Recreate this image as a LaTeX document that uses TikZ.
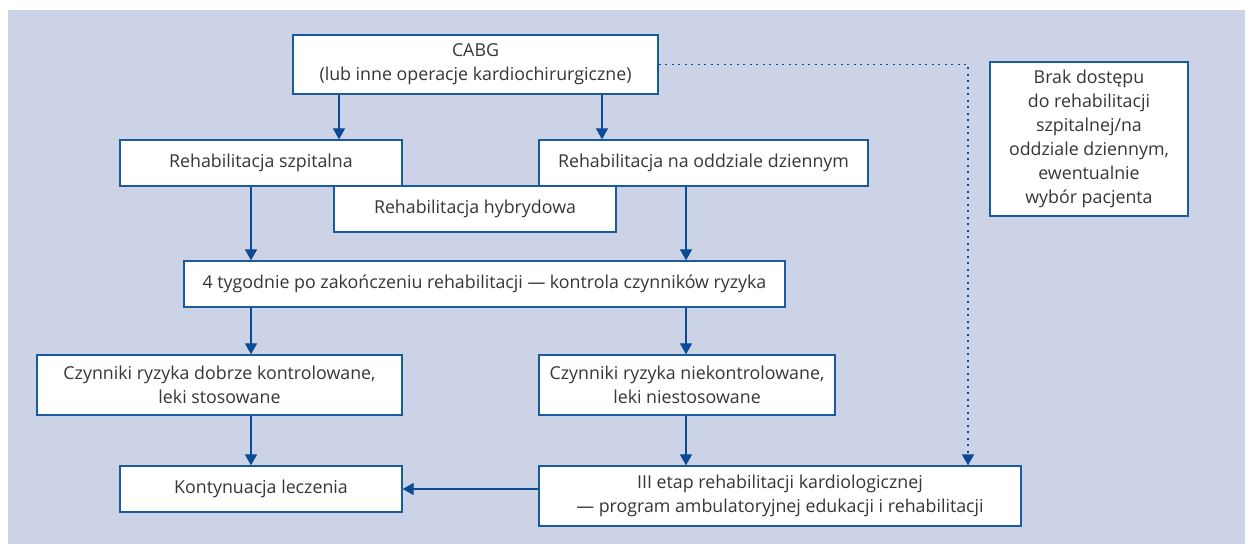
\documentclass[tikz,border=0pt]{standalone}
\usepackage{fontspec}
\setmainfont{Open Sans}
\usetikzlibrary{arrows.meta}
\definecolor{tlo}{HTML}{CDD3E7}
\definecolor{ramka}{HTML}{1C5A9E}
\definecolor{strz}{HTML}{0B4A94}
\definecolor{tekst}{HTML}{363636}
\tikzset{
    box/.style={draw=ramka,line width=1.3pt,fill=white,inner sep=0pt,align=center,
        text=tekst,font=\fontsize{17.8}{24}\selectfont},
    arr/.style={draw=strz,line width=1.2pt,-{Triangle[width=12pt,length=11pt]}},
    dotarr/.style={arr,dash pattern=on 2pt off 4.5pt,line width=1.3pt}
}
\begin{document}
\begin{tikzpicture}[x=1pt,y=-1pt]
        
        \fill[white] (0,0) rectangle (1245,544);
        \fill[tlo] (8,10) rectangle (1245,544);
        \node[box,minimum width=365pt,minimum height=59pt] (cabg) at (475.5,64.5){CABG\\(lub inne operacje kardiochirurgiczne)};
        \node[box,minimum width=282pt,minimum height=46pt] (szp) at (261,163){Rehabilitacja szpitalna};
        \node[box,minimum width=329pt,minimum height=46pt] (dzien) at (703.5,163){Rehabilitacja na oddziale dziennym};
        \node[box,minimum width=282pt,minimum height=46pt] (hybr) at (475,209){Rehabilitacja hybrydowa};
        \node[box,minimum width=601pt,minimum height=46pt] (tyg) at (484.5,284){4 tygodnie po zakończeniu rehabilitacji — kontrola czynników ryzyka};
        \node[box,minimum width=365pt,minimum height=60pt] (dobrze) at (219.5,385){Czynniki ryzyka dobrze kontrolowane,\\leki stosowane};
        \node[box,minimum width=296pt,minimum height=60pt] (nie) at (687,385){Czynniki ryzyka niekontrolowane,\\leki niestosowane};
        \node[box,minimum width=282pt,minimum height=46pt] (kont) at (261,489){Kontynuacja leczenia};
        \node[box,minimum width=482pt,minimum height=60pt] (etap) at (780,496){III etap rehabilitacji kardiologicznej\\— program ambulatoryjnej edukacji i rehabilitacji};
        \node[box,minimum width=198pt,minimum height=154pt] (brak) at (1089,139){Brak dostępu\\do rehabilitacji\\szpitalnej/na\\oddziale dziennym,\\ewentualnie\\wybór pacjenta};
        \coordinate (colL) at (251,0);
        \coordinate (colR) at (686,0);
        \draw[arr] ([xshift=-136.5pt]cabg.south) -- ([xshift=-136.5pt]cabg.south |- szp.north);
        \draw[arr] ([xshift=126.5pt]cabg.south) -- ([xshift=126.5pt]cabg.south |- dzien.north);
        \draw[arr] (szp.south -| colL) -- (tyg.north -| colL);
        \draw[arr] (dzien.south -| colR) -- (tyg.north -| colR);
        \draw[arr] (tyg.south -| colL) -- (dobrze.north -| colL);
        \draw[arr] (tyg.south -| colR) -- (nie.north -| colR);
        \draw[arr] (dobrze.south -| colL) -- (kont.north -| colL);
        \draw[arr] (nie.south -| colR) -- (etap.north -| colR);
        \draw[arr] (etap.west |- kont) -- (kont.east);
        \draw[dotarr] (cabg.east) -| ([xshift=188pt]etap.north);
    \end{tikzpicture}
\end{document}
